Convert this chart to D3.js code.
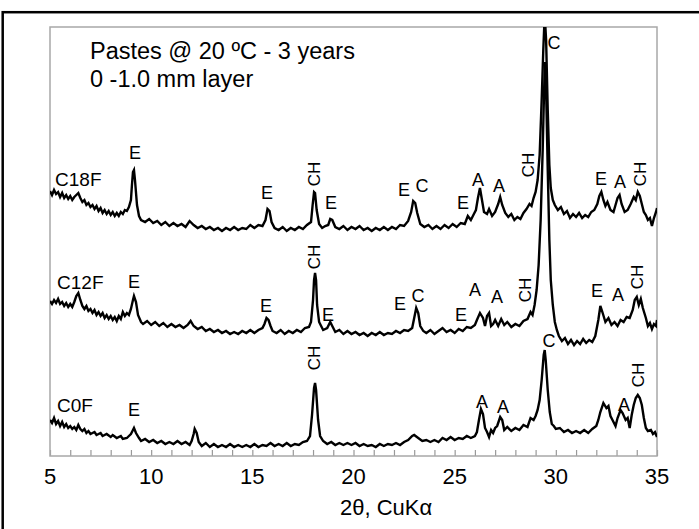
<!DOCTYPE html>
<html>
<head>
<meta charset="utf-8">
<script src="https://cdn.jsdelivr.net/npm/d3@7"></script>
<style>
  body { margin: 0; background: #fff; }
  svg text { font-family: "Liberation Sans", Arial, sans-serif; fill: #000; }
</style>
</head>
<body>
<div id="chart"></div>
<script>
// 2theta (deg), relative intensity (offset traces)
const c0f = [
  [5.0,36],[5.1,33],[5.2,38],[5.3,32],[5.4,35],[5.5,30],[5.6,34],[5.7,29],[5.8,32],[5.9,28],
  [6.0,30],[6.1,27],[6.2,29],[6.3,26],[6.4,31],[6.5,27],[6.6,25],[6.7,27],[6.8,23],[6.9,25],
  [7.0,22],[7.2,24],[7.3,21],[7.5,23],[7.6,20],[7.8,22],[8.0,19],[8.1,21],[8.3,18],[8.5,20],
  [8.6,17],[8.8,18],[8.9,20],[9.0,22],[9.1,26],[9.15,28],[9.25,23],[9.4,18],[9.5,15],[9.7,17],
  [9.9,14],[10.1,16],[10.3,13],[10.5,15],[10.7,12],[10.9,14],[11.1,12],[11.3,15],[11.5,12],[11.7,14],
  [11.9,11],[12.0,15],[12.1,22],[12.15,27],[12.25,23],[12.35,14],[12.5,10],[12.7,13],[12.9,9],[13.1,12],
  [13.3,9],[13.5,11],[13.7,9],[13.9,12],[14.1,9],[14.3,11],[14.5,9],[14.7,11],[14.9,9],[15.1,12],
  [15.3,9],[15.5,11],[15.7,10],[15.9,13],[16.1,10],[16.3,12],[16.5,10],[16.7,13],[16.9,10],[17.1,12],
  [17.3,11],[17.5,14],[17.7,15],[17.85,20],[17.95,41],[18.05,68],[18.1,73],[18.15,66],[18.25,36],[18.35,20],
  [18.5,15],[18.7,12],[18.9,14],[19.1,11],[19.3,13],[19.5,11],[19.7,13],[19.9,11],[20.1,13],[20.3,10],
  [20.5,12],[20.7,10],[20.9,11],[21.1,9],[21.3,12],[21.5,10],[21.7,12],[21.9,11],[22.1,13],[22.3,11],
  [22.5,14],[22.7,16],[22.9,20],[23.0,21],[23.2,18],[23.4,15],[23.6,16],[23.8,14],[24.0,16],[24.2,14],
  [24.4,18],[24.6,16],[24.8,19],[25.0,16],[25.2,18],[25.4,17],[25.6,20],[25.8,18],[26.0,20],[26.1,24],
  [26.2,36],[26.3,47],[26.4,42],[26.5,28],[26.6,24],[26.7,19],[26.8,26],[26.9,23],[27.0,28],[27.1,30],
  [27.25,39],[27.35,36],[27.45,26],[27.6,29],[27.8,25],[28.0,28],[28.2,26],[28.4,31],[28.6,29],[28.75,38],
  [28.9,36],[29.0,40],[29.1,46],[29.2,56],[29.3,76],[29.4,101],[29.45,106],[29.5,96],[29.6,66],[29.7,44],
  [29.8,32],[29.9,30],[30.0,27],[30.2,28],[30.4,24],[30.6,26],[30.8,23],[31.0,25],[31.2,23],[31.4,26],
  [31.6,23],[31.8,27],[32.0,30],[32.1,36],[32.2,44],[32.35,53],[32.5,48],[32.6,50],[32.7,40],[32.8,36],
  [32.95,30],[33.05,38],[33.2,46],[33.3,43],[33.45,36],[33.55,38],[33.65,28],[33.75,41],[33.85,51],[33.95,58],
  [34.05,61],[34.15,58],[34.25,51],[34.35,38],[34.45,28],[34.55,25],[34.7,26],[34.8,22],[34.9,24],[35.0,19]
];

const c12f = [
  [5.0,155],[5.1,152],[5.2,156],[5.3,153],[5.4,157],[5.5,152],[5.6,154],[5.7,150],[5.8,153],[5.9,149],
  [6.0,152],[6.1,149],[6.2,154],[6.3,160],[6.4,163],[6.5,156],[6.6,150],[6.7,147],[6.8,150],[6.9,145],
  [7.0,147],[7.1,143],[7.2,146],[7.3,141],[7.4,144],[7.5,140],[7.6,143],[7.7,138],[7.8,141],[7.9,137],
  [8.0,140],[8.1,136],[8.2,139],[8.3,135],[8.4,140],[8.5,137],[8.6,144],[8.7,140],[8.8,143],[8.9,141],
  [9.0,147],[9.1,156],[9.15,160],[9.25,154],[9.35,141],[9.5,134],[9.6,132],[9.8,135],[10.0,131],[10.2,134],
  [10.4,130],[10.6,133],[10.8,129],[11.0,132],[11.2,129],[11.4,131],[11.6,128],[11.8,131],[11.95,135],[12.1,130],
  [12.3,127],[12.5,129],[12.7,125],[12.9,127],[13.1,124],[13.3,126],[13.5,123],[13.7,125],[13.9,122],[14.1,124],
  [14.3,122],[14.5,125],[14.7,123],[14.9,126],[15.1,123],[15.3,126],[15.5,128],[15.6,132],[15.7,138],[15.8,136],
  [15.9,130],[16.0,125],[16.2,123],[16.4,126],[16.6,122],[16.8,125],[17.0,123],[17.2,126],[17.4,124],[17.6,128],
  [17.8,129],[17.9,134],[18.0,156],[18.05,176],[18.1,183],[18.15,176],[18.2,151],[18.3,134],[18.4,130],[18.5,126],
  [18.7,128],[18.85,134],[18.95,130],[19.1,124],[19.3,126],[19.5,122],[19.7,125],[19.9,122],[20.1,124],[20.3,121],
  [20.5,123],[20.7,120],[20.9,123],[21.1,121],[21.3,124],[21.5,121],[21.7,123],[21.9,122],[22.1,125],[22.3,123],
  [22.5,126],[22.7,125],[22.9,128],[23.0,138],[23.1,148],[23.2,143],[23.3,130],[23.45,125],[23.6,123],[23.8,126],
  [24.0,122],[24.2,125],[24.4,128],[24.6,124],[24.8,126],[25.0,123],[25.2,127],[25.4,125],[25.6,129],[25.8,128],
  [26.0,131],[26.1,136],[26.25,143],[26.4,138],[26.5,130],[26.6,140],[26.7,143],[26.8,130],[26.9,132],[27.0,136],
  [27.15,130],[27.3,137],[27.45,131],[27.6,134],[27.8,129],[28.0,132],[28.2,130],[28.4,135],[28.6,137],[28.75,144],
  [28.85,141],[28.95,151],[29.05,166],[29.15,191],[29.25,236],[29.35,306],[29.42,366],[29.47,394],[29.52,366],[29.6,286],
  [29.68,216],[29.75,176],[29.85,151],[29.95,134],[30.05,126],[30.15,120],[30.3,115],[30.45,118],[30.6,112],[30.75,116],
  [30.9,111],[31.05,115],[31.2,112],[31.35,117],[31.5,113],[31.65,116],[31.8,114],[31.95,120],[32.1,136],[32.2,150],
  [32.3,144],[32.45,134],[32.6,138],[32.75,131],[32.9,134],[33.05,130],[33.2,136],[33.35,134],[33.5,139],[33.65,138],
  [33.8,146],[33.9,156],[34.0,159],[34.1,151],[34.2,157],[34.3,148],[34.45,138],[34.55,130],[34.65,133],[34.75,127],
  [34.85,132],[34.95,130],[35.0,136]
];

const c18f = [
  [5.0,265],[5.1,261],[5.2,266],[5.3,262],[5.4,264],[5.5,259],[5.6,263],[5.7,258],[5.8,261],[5.9,257],
  [6.0,260],[6.1,256],[6.2,259],[6.3,261],[6.4,263],[6.5,258],[6.6,254],[6.7,256],[6.8,251],[6.9,253],
  [7.0,249],[7.1,251],[7.2,247],[7.3,250],[7.4,245],[7.5,248],[7.6,243],[7.7,246],[7.8,242],[7.9,245],
  [8.0,241],[8.1,244],[8.2,240],[8.3,243],[8.4,240],[8.5,244],[8.6,242],[8.7,246],[8.8,245],[8.9,249],
  [9.0,256],[9.05,271],[9.1,284],[9.15,286],[9.2,276],[9.3,251],[9.4,240],[9.5,236],[9.7,234],[9.9,237],
  [10.1,233],[10.3,235],[10.5,231],[10.7,234],[10.9,230],[11.1,233],[11.3,230],[11.5,232],[11.7,229],[11.9,235],
  [12.1,231],[12.3,228],[12.5,230],[12.7,227],[12.9,229],[13.1,226],[13.3,228],[13.5,225],[13.7,228],[13.9,226],
  [14.1,229],[14.3,226],[14.5,228],[14.7,227],[14.9,231],[15.1,228],[15.3,231],[15.5,230],[15.65,236],[15.75,247],
  [15.85,245],[15.95,234],[16.1,228],[16.3,226],[16.5,229],[16.7,225],[16.9,228],[17.1,226],[17.3,229],[17.5,227],
  [17.7,231],[17.9,234],[17.98,251],[18.05,264],[18.1,263],[18.18,246],[18.3,232],[18.45,228],[18.6,230],[18.75,231],
  [18.85,237],[18.95,236],[19.1,229],[19.3,227],[19.5,230],[19.7,226],[19.9,229],[20.1,227],[20.3,230],[20.5,226],
  [20.7,228],[20.9,225],[21.1,228],[21.3,226],[21.5,229],[21.7,226],[21.9,229],[22.1,227],[22.3,231],[22.5,230],
  [22.7,235],[22.85,244],[22.95,255],[23.05,253],[23.15,243],[23.3,232],[23.5,229],[23.7,231],[23.9,227],[24.1,230],
  [24.3,227],[24.5,231],[24.7,228],[24.9,232],[25.1,229],[25.3,233],[25.5,232],[25.65,240],[25.8,236],[25.95,242],
  [26.05,246],[26.15,258],[26.25,268],[26.35,256],[26.45,244],[26.6,242],[26.7,247],[26.85,240],[27.0,244],[27.15,252],
  [27.25,259],[27.35,251],[27.5,243],[27.65,239],[27.8,242],[27.95,236],[28.1,239],[28.25,237],[28.4,243],[28.55,247],
  [28.7,252],[28.8,250],[28.9,258],[29.0,264],[29.1,276],[29.2,301],[29.3,356],[29.38,406],[29.45,441],[29.52,416],
  [29.6,346],[29.68,291],[29.75,268],[29.85,256],[29.95,251],[30.1,246],[30.25,249],[30.4,242],[30.55,245],[30.7,238],
  [30.85,242],[31.0,239],[31.15,243],[31.3,238],[31.45,241],[31.6,239],[31.75,244],[31.9,246],[32.05,252],[32.15,260],
  [32.25,264],[32.35,256],[32.45,250],[32.55,254],[32.7,246],[32.85,244],[32.95,251],[33.05,258],[33.15,261],[33.25,252],
  [33.4,244],[33.55,246],[33.7,252],[33.85,259],[33.95,256],[34.05,264],[34.15,260],[34.25,252],[34.35,244],[34.45,241],
  [34.55,236],[34.65,238],[34.75,230],[34.85,238],[34.95,244],[35.0,248]
];

// sample names and phase labels: [text, 2theta, intensity, rotated]
const sampleNames = [["C18F",5.25,277],["C12F",5.35,174],["C0F",5.35,51]];
const phaseLabels = [
  ["E",9.2,303,0],["E",15.72,263,0],["CH",18.05,282,1],["E",18.89,253,0],["E",22.5,266,0],["C",23.39,270,0],
  ["E",25.41,253,0],["A",26.15,276,0],["A",27.19,270,0],["CH",28.62,291,1],["C",29.91,413,0],
  ["E",32.23,277,0],["A",33.17,274,0],["CH",34.16,282,1],
  ["E",9.15,174,0],["E",15.68,150,0],["CH",18.05,199,1],["E",18.74,141,0],["E",22.3,152,0],["C",23.19,160,0],
  ["E",25.31,141,0],["A",26.0,166,0],["A",27.09,159,0],["CH",28.48,166,1],["E",32.03,165,0],["A",33.07,161,0],
  ["CH",34.01,179,1],
  ["E",9.15,46,0],["CH",18.05,98,1],["C",29.66,115,0],["A",26.35,54,0],["A",27.39,49,0],["A",33.37,51,0],
  ["CH",34.06,81,1]
];
const xTicks = [5, 10, 15, 20, 25, 30, 35];
const titleLines = ["Pastes @ 20 ºC - 3 years", "0 -1.0 mm layer"];
const xTitle = "2θ, CuKα";

const W = 699, H = 529;
const margin = {left: 50, top: 27, right: 42, bottom: 73};
const width = W - margin.left - margin.right;
const height = H - margin.top - margin.bottom;

const svg = d3.select("#chart").append("svg")
  .attr("width", W).attr("height", H);

// outer black frame (only left/top visible)
svg.append("rect")
  .attr("x", 2.7).attr("y", 12.2)
  .attr("width", 760).attr("height", 600)
  .attr("fill", "none").attr("stroke", "#000").attr("stroke-width", 2.5);

const g = svg.append("g").attr("transform", `translate(${margin.left},${margin.top})`);

const x = d3.scaleLinear().domain([5, 35]).range([0, width]);
const y = d3.scaleLinear().domain([0, 429]).range([height, 0]);

g.append("clipPath").attr("id", "clip")
  .append("rect").attr("width", width).attr("height", height);

// bottom axis with small inward ticks every degree
const xAxis = g.append("g")
  .attr("transform", `translate(0,${height})`)
  .call(d3.axisBottom(x).tickValues(d3.range(5, 36, 1)).tickSize(-6).tickFormat(""));
xAxis.select(".domain").remove();
xAxis.selectAll("line").attr("stroke", "#999").attr("stroke-width", 1.2);

g.selectAll(".xlab")
  .data(xTicks)
  .join("text")
    .attr("x", d => x(d))
    .attr("y", height + 28)
    .attr("text-anchor", "middle")
    .style("font-size", "22px")
    .text(d => d);

// plot frame
g.append("rect")
  .attr("width", width).attr("height", height)
  .attr("fill", "none").attr("stroke", "#a8a8a8").attr("stroke-width", 1.5);

const line = d3.line().x(d => x(d[0])).y(d => y(d[1]));

g.append("g").attr("clip-path", "url(#clip)")
  .selectAll("path")
  .data([c0f, c12f, c18f])
  .join("path")
    .attr("d", line)
    .attr("fill", "none")
    .attr("stroke", "#000")
    .attr("stroke-width", 2.4)
    .attr("stroke-linejoin", "miter");

g.selectAll(".sample")
  .data(sampleNames)
  .join("text")
    .attr("x", d => x(d[1]))
    .attr("y", d => y(d[2]))
    .attr("dy", "0.35em")
    .style("font-size", "19px")
    .text(d => d[0]);

g.selectAll(".phase")
  .data(phaseLabels)
  .join("text")
    .attr("transform", d => `translate(${x(d[1])},${y(d[2])})` + (d[3] ? " rotate(-90)" : ""))
    .attr("text-anchor", "middle")
    .attr("dy", "0.35em")
    .style("font-size", d => d[3] ? "17px" : "18px")
    .text(d => d[0]);

svg.selectAll(".title")
  .data(titleLines)
  .join("text")
    .attr("x", 90)
    .attr("y", (d, i) => 59 + i * 28)
    .style("font-size", "23.5px")
    .text(d => d);

svg.append("text")
  .attr("x", 340).attr("y", 515)
  .style("font-size", "22px")
  .text(xTitle);
</script>
</body>
</html>
